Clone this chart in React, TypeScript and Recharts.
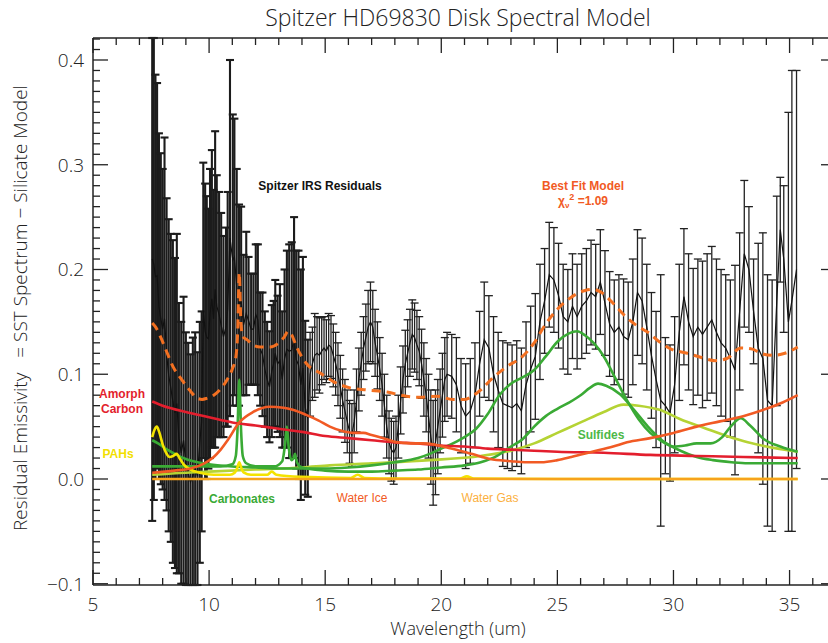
import React from 'react';
import { LineChart, Line, XAxis, YAxis, ErrorBar } from 'recharts';

// residual spectrum: [wavelength, residual, 1-sigma error]
const residualsShort: [number, number, number][] = [
  [7.55, 0.21, 0.25], [7.62, 0.205, 0.225], [7.69, 0.193, 0.193], [7.76, 0.194, 0.184],
  [7.84, 0.165, 0.165], [7.92, 0.153, 0.158], [8.0, 0.143, 0.153], [8.08, 0.153, 0.173],
  [8.17, 0.119, 0.149], [8.26, 0.099, 0.149], [8.35, 0.087, 0.147], [8.44, 0.074, 0.154],
  [8.53, 0.063, 0.148], [8.61, 0.072, 0.162], [8.7, 0.039, 0.129], [8.8, 0.025, 0.125],
  [8.9, 0.037, 0.137], [9.0, 0.015, 0.125], [9.1, 0.005, 0.125], [9.2, -0.003, 0.122],
  [9.3, 0.003, 0.132], [9.4, 0.01, 0.13], [9.5, 0.003, 0.118], [9.6, 0.035, 0.115],
  [9.68, 0.055, 0.105], [9.75, 0.161, 0.141], [9.83, 0.141, 0.141], [9.9, 0.135, 0.135],
  [9.97, 0.134, 0.124], [10.04, 0.158, 0.138], [10.12, 0.172, 0.142], [10.19, 0.153, 0.123],
  [10.26, 0.181, 0.151], [10.33, 0.165, 0.125], [10.43, 0.157, 0.117], [10.52, 0.147, 0.107],
  [10.62, 0.136, 0.096], [10.73, 0.145, 0.095], [10.8, 0.162, 0.112], [10.9, 0.23, 0.17],
  [11.02, 0.209, 0.139], [11.09, 0.212, 0.132], [11.19, 0.183, 0.113], [11.29, 0.166, 0.096],
  [11.38, 0.17, 0.09], [11.48, 0.147, 0.067], [11.6, 0.158, 0.078], [11.7, 0.151, 0.061],
  [11.81, 0.143, 0.053], [11.91, 0.143, 0.053], [12.01, 0.157, 0.067], [12.1, 0.152, 0.072],
  [12.2, 0.124, 0.054], [12.3, 0.119, 0.059], [12.4, 0.105, 0.055], [12.5, 0.095, 0.055],
  [12.6, 0.088, 0.053], [12.7, 0.103, 0.063], [12.78, 0.11, 0.06], [12.85, 0.12, 0.07],
  [12.95, 0.11, 0.065], [13.05, 0.113, 0.073], [13.15, 0.095, 0.065], [13.25, 0.115, 0.085],
  [13.35, 0.124, 0.094], [13.45, 0.122, 0.102], [13.56, 0.123, 0.103], [13.66, 0.135, 0.115],
  [13.75, 0.114, 0.104], [13.85, 0.109, 0.109], [13.95, 0.09, 0.11], [14.04, 0.106, 0.106],
  [14.14, 0.068, 0.083], [14.25, 0.058, 0.075],
];

const residualsMid: [number, number, number][] = [
  [14.35, 0.1, 0.04], [14.45, 0.11, 0.035], [14.55, 0.118, 0.04], [14.65, 0.12, 0.035],
  [14.75, 0.118, 0.036], [14.85, 0.122, 0.032], [14.95, 0.125, 0.03], [15.05, 0.122, 0.03],
  [15.15, 0.128, 0.03], [15.25, 0.126, 0.03], [15.35, 0.118, 0.03], [15.45, 0.11, 0.03],
  [15.55, 0.1, 0.03], [15.65, 0.088, 0.03], [15.75, 0.075, 0.03], [15.85, 0.065, 0.03],
  [15.95, 0.055, 0.03], [16.05, 0.045, 0.03], [16.15, 0.042, 0.03], [16.25, 0.055, 0.03],
  [16.35, 0.075, 0.03], [16.45, 0.095, 0.03], [16.55, 0.11, 0.03], [16.65, 0.125, 0.03],
  [16.75, 0.135, 0.032], [16.85, 0.145, 0.035], [16.95, 0.15, 0.038], [17.05, 0.145, 0.035],
  [17.15, 0.13, 0.032], [17.25, 0.118, 0.032], [17.35, 0.105, 0.03], [17.45, 0.09, 0.03],
  [17.55, 0.07, 0.03], [17.65, 0.05, 0.03], [17.75, 0.035, 0.03], [17.85, 0.028, 0.03],
  [17.95, 0.025, 0.03], [18.05, 0.03, 0.03], [18.15, 0.05, 0.03], [18.25, 0.075, 0.032],
  [18.35, 0.095, 0.032], [18.45, 0.11, 0.032], [18.55, 0.12, 0.032], [18.65, 0.13, 0.032],
  [18.75, 0.138, 0.033], [18.85, 0.135, 0.033], [18.95, 0.128, 0.033], [19.05, 0.122, 0.033],
  [19.15, 0.11, 0.033], [19.25, 0.095, 0.035], [19.35, 0.08, 0.035], [19.45, 0.06, 0.04],
  [19.55, 0.04, 0.045], [19.65, 0.025, 0.05], [19.75, 0.035, 0.05], [19.85, 0.05, 0.045],
  [19.95, 0.065, 0.04], [20.05, 0.08, 0.04], [20.15, 0.095, 0.04],
];

const residualsLong: [number, number, number][] = [
  [20.25, 0.1, 0.04], [20.45, 0.098, 0.04], [20.65, 0.09, 0.045], [20.85, 0.07, 0.045],
  [21.05, 0.06, 0.05], [21.25, 0.065, 0.05], [21.45, 0.08, 0.05], [21.65, 0.11, 0.05],
  [21.85, 0.133, 0.055], [22.05, 0.125, 0.05], [22.25, 0.1, 0.055], [22.45, 0.085, 0.055],
  [22.65, 0.072, 0.06], [22.85, 0.07, 0.06], [23.05, 0.068, 0.06], [23.25, 0.072, 0.06],
  [23.45, 0.065, 0.06], [23.65, 0.09, 0.06], [23.85, 0.105, 0.06], [24.05, 0.117, 0.06],
  [24.25, 0.15, 0.055], [24.45, 0.17, 0.05], [24.65, 0.195, 0.05], [24.85, 0.19, 0.05],
  [25.05, 0.175, 0.05], [25.25, 0.155, 0.05], [25.45, 0.15, 0.05], [25.65, 0.165, 0.05],
  [25.85, 0.155, 0.05], [26.05, 0.165, 0.05], [26.25, 0.17, 0.05], [26.45, 0.178, 0.05],
  [26.65, 0.174, 0.05], [26.85, 0.188, 0.05], [27.05, 0.168, 0.05], [27.25, 0.148, 0.05],
  [27.45, 0.14, 0.05], [27.65, 0.145, 0.05], [27.85, 0.136, 0.055], [28.05, 0.133, 0.055],
  [28.25, 0.15, 0.06], [28.45, 0.178, 0.06], [28.65, 0.17, 0.06], [28.85, 0.145, 0.06],
  [29.05, 0.118, 0.06], [29.25, 0.095, 0.065], [29.45, 0.075, 0.12], [29.65, 0.07, 0.065],
  [29.85, 0.063, 0.065], [30.05, 0.09, 0.065], [30.25, 0.14, 0.065], [30.45, 0.174, 0.065],
  [30.65, 0.15, 0.065], [30.85, 0.136, 0.065], [31.05, 0.145, 0.065], [31.25, 0.138, 0.07],
  [31.45, 0.145, 0.07], [31.65, 0.152, 0.07], [31.85, 0.14, 0.07], [32.05, 0.13, 0.07],
  [32.25, 0.125, 0.07], [32.45, 0.115, 0.075], [32.65, 0.104, 0.1], [32.85, 0.16, 0.075],
  [33.05, 0.215, 0.07], [33.25, 0.2, 0.06], [33.45, 0.16, 0.05], [33.65, 0.125, 0.1],
  [33.85, 0.115, 0.12], [34.05, 0.075, 0.12], [34.25, 0.07, 0.12], [34.45, 0.17, 0.1],
  [34.6, 0.238, 0.05], [34.75, 0.21, 0.07], [34.95, 0.15, 0.2], [35.1, 0.17, 0.22],
  [35.3, 0.2, 0.19],
];

// model components: [wavelength, emissivity]
const bestFit: [number, number][] = [
  [7.55, 0.149], [7.7, 0.145], [7.96, 0.133], [8.2, 0.12], [8.45, 0.107], [8.75, 0.097],
  [9.05, 0.088], [9.3, 0.081], [9.5, 0.077], [9.7, 0.076], [9.9, 0.077], [10.2, 0.08],
  [10.5, 0.086], [10.78, 0.095], [11.0, 0.105], [11.15, 0.116], [11.23, 0.14], [11.3, 0.197],
  [11.37, 0.15], [11.45, 0.136], [11.63, 0.133], [11.9, 0.128], [12.2, 0.126], [12.63, 0.126],
  [13.0, 0.13], [13.25, 0.136], [13.4, 0.141], [13.55, 0.138], [13.75, 0.127], [14.2, 0.11],
  [14.8, 0.101], [15.35, 0.093], [16.07, 0.087], [16.8, 0.085], [17.67, 0.083], [18.5, 0.079],
  [19.1, 0.078], [19.8, 0.079], [20.5, 0.076], [21.0, 0.076], [21.4, 0.08], [21.7, 0.085],
  [22.1, 0.094], [22.8, 0.107], [23.5, 0.117], [24.0, 0.13], [24.5, 0.148], [25.0, 0.162],
  [25.5, 0.172], [25.85, 0.177], [26.2, 0.18], [26.55, 0.181], [26.9, 0.178], [27.3, 0.17],
  [27.85, 0.157], [28.45, 0.146], [28.9, 0.14], [29.45, 0.13], [29.9, 0.124], [30.6, 0.12],
  [31.2, 0.116], [31.8, 0.113], [32.3, 0.115], [32.9, 0.125], [33.4, 0.124], [33.75, 0.12],
  [34.3, 0.118], [34.8, 0.12], [35.35, 0.126],
];

const amorphCarbon: [number, number][] = [
  [7.55, 0.074], [8, 0.07], [9, 0.064], [10, 0.059], [11, 0.054], [12, 0.051], [13, 0.048],
  [14, 0.045], [15, 0.041], [16, 0.039], [17, 0.037], [18, 0.035], [19, 0.034], [20, 0.032],
  [21, 0.031], [22, 0.029], [23, 0.028], [24, 0.027], [25, 0.026], [27, 0.025], [29, 0.023],
  [31, 0.022], [33, 0.021], [35.35, 0.02],
];

const waterIce: [number, number][] = [
  [7.55, 0.006], [8.5, 0.008], [9.2, 0.01], [9.8, 0.015], [10.2, 0.021], [10.5, 0.028],
  [10.8, 0.037], [11.3, 0.054], [11.9, 0.064], [12.6, 0.069], [13.2, 0.068], [13.6, 0.066],
  [14.2, 0.061], [14.7, 0.056], [15.2, 0.05], [15.7, 0.046], [16.2, 0.044], [16.65, 0.044],
  [17.0, 0.042], [17.5, 0.039], [18.1, 0.035], [18.7, 0.034], [19.2, 0.034], [19.7, 0.033],
  [20.25, 0.03], [20.8, 0.027], [21.3, 0.024], [22.1, 0.019], [23.0, 0.017], [23.6, 0.016],
  [24.3, 0.016], [25.0, 0.018], [25.6, 0.021], [26.5, 0.026], [27.4, 0.031], [28.0, 0.035],
  [29.0, 0.039], [30.0, 0.044], [31.0, 0.05], [32.0, 0.055], [33.0, 0.06], [34.0, 0.067],
  [34.7, 0.073], [35.35, 0.08],
];

const pahs: [number, number][] = [
  [7.55, 0.04], [7.65, 0.047], [7.75, 0.05], [7.85, 0.045], [8.0, 0.033], [8.15, 0.025],
  [8.3, 0.021], [8.45, 0.022], [8.6, 0.024], [8.75, 0.019], [8.9, 0.014], [9.2, 0.009],
  [9.6, 0.006], [10.2, 0.004], [10.9, 0.004], [11.1, 0.006], [11.22, 0.011], [11.3, 0.016],
  [11.38, 0.011], [11.5, 0.006], [11.8, 0.004], [12.5, 0.004], [12.7, 0.007], [12.9, 0.004],
  [14, 0.002], [16.1, 0.001], [16.4, 0.004], [16.7, 0.001], [18, 0.0005], [20.8, 0.0005],
  [21.1, 0.0025], [21.4, 0.0005], [25, 0], [35.35, 0],
];

const waterGas: [number, number][] = [
  [7.55, 0], [10, 0], [15, 0], [20, 0], [25, 0], [30, 0], [35.35, 0],
];

const carbonates: [number, number][] = [
  [7.55, 0.012], [8.5, 0.012], [9.5, 0.012], [10.5, 0.012], [11.0, 0.014], [11.15, 0.022],
  [11.22, 0.045], [11.3, 0.095], [11.38, 0.045], [11.45, 0.022], [11.6, 0.015], [12.0, 0.012],
  [12.8, 0.012], [13.15, 0.017], [13.27, 0.033], [13.35, 0.05], [13.43, 0.03], [13.55, 0.018],
  [13.64, 0.02], [13.7, 0.024], [13.78, 0.016], [14.0, 0.011], [15, 0.008], [16, 0.007],
  [17, 0.007], [18, 0.008], [19, 0.009], [20, 0.011], [21, 0.013], [21.7, 0.016], [22.4, 0.022],
  [23.0, 0.031], [23.5, 0.038], [24.0, 0.05], [24.5, 0.06], [25.0, 0.067], [25.5, 0.073],
  [26.0, 0.08], [26.4, 0.087], [26.75, 0.091], [27.1, 0.089], [27.7, 0.081], [28.3, 0.066],
  [28.9, 0.05], [29.5, 0.037], [30.3, 0.027], [31.0, 0.021], [31.7, 0.018], [32.5, 0.016],
  [33.2, 0.015], [35.35, 0.015],
];

const sulfides: [number, number][] = [
  [7.55, 0.037], [7.8, 0.034], [8.2, 0.028], [8.6, 0.023], [9.0, 0.019], [9.5, 0.016],
  [10, 0.014], [11, 0.012], [12, 0.011], [13, 0.01], [14, 0.01], [15, 0.01], [16, 0.011],
  [17, 0.013], [18, 0.016], [19, 0.02], [19.5, 0.024], [20, 0.029], [20.5, 0.034], [21, 0.04],
  [21.5, 0.048], [22, 0.062], [22.5, 0.08], [23, 0.091], [23.5, 0.097], [24, 0.104],
  [24.5, 0.117], [25, 0.131], [25.5, 0.139], [25.85, 0.141], [26.2, 0.137], [26.6, 0.129],
  [27.0, 0.117], [27.5, 0.096], [28.0, 0.075], [28.5, 0.057], [29.0, 0.044], [29.5, 0.036],
  [30.0, 0.031], [30.5, 0.032], [31.0, 0.034], [31.6, 0.034], [32.1, 0.04], [32.5, 0.051],
  [32.9, 0.058], [33.3, 0.051], [33.9, 0.038], [34.6, 0.031], [35.35, 0.026],
];

const sulfidesLight: [number, number][] = [
  [7.55, 0.004], [9, 0.006], [10, 0.007], [12, 0.009], [14, 0.011], [15.2, 0.013], [17, 0.015],
  [19.5, 0.018], [21.7, 0.022], [23, 0.027], [24, 0.034], [25, 0.044], [26, 0.054], [27, 0.064],
  [27.85, 0.071], [28.5, 0.07], [29.4, 0.066], [30.3, 0.057], [31.3, 0.049], [32.3, 0.041],
  [33.2, 0.035], [34.0, 0.031], [35.35, 0.026],
];

const xTicks = Array.from({ length: 33 }, (_, i) => 5 + i);
const yTicks = Array.from({ length: 53 }, (_, i) => Math.round((-0.1 + i * 0.01) * 100) / 100);

const Y_MIN = -0.1012;
const Y_MAX = 0.421;

const FONT = "'Open Sans', 'DejaVu Sans', sans-serif";
const BOLD = "'Liberation Sans', Arial, sans-serif";
const AX = '#222';

const pts = (a: [number, number][]) => a.map(([x, y]) => ({ x, y }));
// error bars are cut at the plot frame, like the original clipped plot
const withErr = (a: [number, number, number][]) =>
  a.map(([x, y, e]) => ({ x, y, err: [Math.min(e, y - Y_MIN), Math.min(e, Y_MAX - y)] }));
const residuals = pts([...residualsShort, ...residualsMid, ...residualsLong].map(([x, y]) => [x, y] as [number, number]));

const isMajorX = (v: number) => Math.round(v) % 5 === 0;
const isMajorY = (v: number) => Math.round(v * 100) % 10 === 0;

const BottomTick = ({ x, y, payload }: any) => {
  const major = isMajorX(payload.value);
  return (
    <g>
      <line x1={x} y1={y} x2={x} y2={y - (major ? 15 : 7)} stroke={AX} strokeWidth={1.3} />
      {major && payload.value <= 35 && (
        <text x={x} y={y + 26} textAnchor="middle" fontSize={19} fontFamily={FONT} fontWeight={300} fill={AX}>
          {payload.value}
        </text>
      )}
    </g>
  );
};

const TopTick = ({ x, y, payload }: any) => (
  <line x1={x} y1={y} x2={x} y2={y + (isMajorX(payload.value) ? 15 : 7)} stroke={AX} strokeWidth={1.3} />
);

const LeftTick = ({ x, y, payload }: any) => {
  const v = payload.value;
  const major = isMajorY(v);
  const label = v < 0 ? '\u2212' + Math.abs(v).toFixed(1) : v.toFixed(1);
  return (
    <g>
      <line x1={x} y1={y} x2={x + (major ? 15 : 7)} y2={y} stroke={AX} strokeWidth={1.3} />
      {major && v <= 0.4 && (
        <text x={x - 9} y={y + 7} textAnchor="end" fontSize={19} fontFamily={FONT} fontWeight={300} fill={AX}>
          {label}
        </text>
      )}
    </g>
  );
};

const RightTick = ({ x, y, payload }: any) => (
  <line x1={x} y1={y} x2={x - (isMajorY(payload.value) ? 15 : 7)} y2={y} stroke={AX} strokeWidth={1.3} />
);

const App = () => {
  return (
    <div style={{ position: 'absolute', left: 0, top: 0, width: 828, height: 643, overflow: 'hidden', background: '#fff' }}>
      <LineChart width={840} height={643} margin={{ top: 28, right: 0, bottom: 28, left: 53 }}>
        <XAxis type="number" dataKey="x" domain={[5, 37]} ticks={xTicks} interval={0} allowDataOverflow
          height={30} tickSize={0} tickMargin={0} tick={<BottomTick />} axisLine={{ stroke: AX, strokeWidth: 1.5 }} />
        <XAxis xAxisId="top" orientation="top" type="number" dataKey="x" domain={[5, 37]} ticks={xTicks} interval={0}
          allowDataOverflow height={10} tickSize={0} tickMargin={0} tick={<TopTick />} axisLine={{ stroke: AX, strokeWidth: 1.5 }} />
        <YAxis type="number" domain={[Y_MIN, Y_MAX]} ticks={yTicks} interval={0} allowDataOverflow
          width={40} tickSize={0} tickMargin={0} tick={<LeftTick />} axisLine={{ stroke: AX, strokeWidth: 1.5 }} />
        <YAxis yAxisId="right" orientation="right" type="number" domain={[Y_MIN, Y_MAX]} ticks={yTicks} interval={0}
          allowDataOverflow width={4} tickSize={0} tickMargin={0} tick={<RightTick />} axisLine={{ stroke: AX, strokeWidth: 1.5 }} />

        <Line data={withErr(residualsShort)} dataKey="y" stroke="none" dot={false} isAnimationActive={false}>
          <ErrorBar dataKey="err" direction="y" width={4} stroke="#1c1c1c" strokeWidth={2.1} isAnimationActive={false} />
        </Line>
        <Line data={withErr([...residualsMid, ...residualsLong])} dataKey="y" stroke="none" dot={false} isAnimationActive={false}>
          <ErrorBar dataKey="err" direction="y" width={4} stroke="#222" strokeWidth={1.3} isAnimationActive={false} />
        </Line>
        <Line data={residuals} dataKey="y" type="linear" stroke="#111" strokeWidth={1.2} dot={false} isAnimationActive={false} />

        <Line data={pts(sulfidesLight)} dataKey="y" type="monotone" stroke="#b5d334" strokeWidth={2.6} dot={false} isAnimationActive={false} />
        <Line data={pts(carbonates)} dataKey="y" type="monotone" stroke="#3aaa35" strokeWidth={2.6} dot={false} isAnimationActive={false} />
        <Line data={pts(sulfides)} dataKey="y" type="monotone" stroke="#3aaa35" strokeWidth={2.6} dot={false} isAnimationActive={false} />
        <Line data={pts(pahs)} dataKey="y" type="monotone" stroke="#f4e300" strokeWidth={2.6} dot={false} isAnimationActive={false} />
        <Line data={pts(waterGas)} dataKey="y" type="linear" stroke="#f7a21b" strokeWidth={2.6} dot={false} isAnimationActive={false} />
        <Line data={pts(amorphCarbon)} dataKey="y" type="monotone" stroke="#e31e2d" strokeWidth={2.6} dot={false} isAnimationActive={false} />
        <Line data={pts(waterIce)} dataKey="y" type="monotone" stroke="#f15a24" strokeWidth={2.6} dot={false} isAnimationActive={false} />
        <Line data={pts(bestFit)} dataKey="y" type="monotone" stroke="#f37021" strokeWidth={3} strokeDasharray="9 6" dot={false} isAnimationActive={false} />
      </LineChart>

      <svg width={828} height={643} style={{ position: 'absolute', left: 0, top: 0, pointerEvents: 'none' }}>
        <text x={458} y={26} textAnchor="middle" fontSize={23} fontFamily={FONT} fontWeight={300} fill={AX}>
          Spitzer HD69830 Disk Spectral Model
        </text>
        <text x={458} y={635} textAnchor="middle" fontSize={18} fontFamily={FONT} fontWeight={300} fill={AX}>
          Wavelength (um)
        </text>
        <text transform="translate(27,308) rotate(-90)" textAnchor="middle" fontSize={19} fontFamily={FONT}
          fontWeight={300} fill={AX} style={{ whiteSpace: 'pre' }}>
          {'Residual Emissivity   = SST Spectrum \u2212 Silicate Model'}
        </text>

        <g fontFamily={BOLD} fontWeight="bold" fontSize={12}>
          <text x={320} y={190} textAnchor="middle" fill="#111">Spitzer IRS Residuals</text>
          <text x={583} y={190} textAnchor="middle" fill="#f15a24">Best Fit Model</text>
          <text x={583} y={205} textAnchor="middle" fill="#f15a24">
            <tspan>χ</tspan>
            <tspan dy={3} fontSize={8}>ν</tspan>
            <tspan dy={-8} fontSize={9}>2</tspan>
            <tspan dy={5}> =1.09</tspan>
          </text>
          <text x={122} y={398} textAnchor="middle" fill="#e31e2d">Amorph</text>
          <text x={122} y={413} textAnchor="middle" fill="#e31e2d">Carbon</text>
          <text x={118} y={458} textAnchor="middle" fill="#f2e000">PAHs</text>
          <text x={242} y={503} textAnchor="middle" fill="#3aaa35">Carbonates</text>
          <text x={601} y={439} textAnchor="middle" fill="#4db848">Sulfides</text>
        </g>
        <g fontFamily={BOLD} fontSize={12}>
          <text x={362} y={502} textAnchor="middle" fill="#f15a24">Water Ice</text>
          <text x={490} y={502} textAnchor="middle" fill="#fbb040">Water Gas</text>
        </g>
      </svg>
    </div>
  );
};

export default App;
